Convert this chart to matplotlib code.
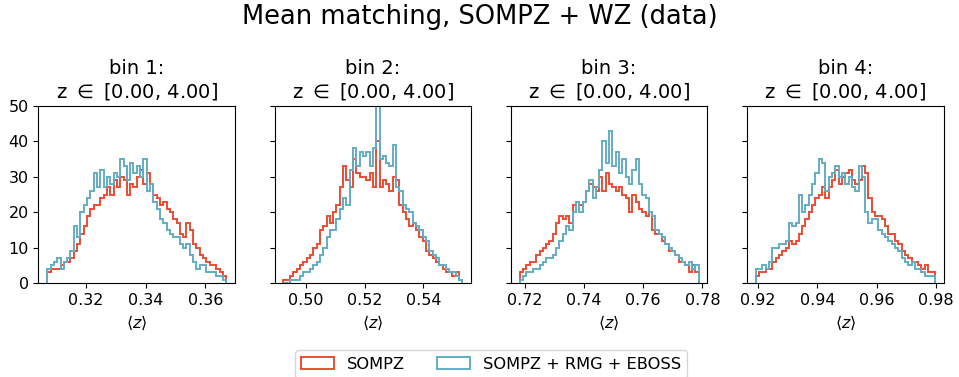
import matplotlib
matplotlib.use("Agg")
import matplotlib.pyplot as plt
import numpy as np

# bin edges per tomographic bin (lo, hi), same number of bins for every panel
ranges = [(0.307, 0.367), (0.4925, 0.5532), (0.7183, 0.7787), (0.9193, 0.9795)]
titles = ["bin 1:\nz $\\in$ [0.00, 4.00]", "bin 2:\nz $\\in$ [0.00, 4.00]",
          "bin 3:\nz $\\in$ [0.00, 4.00]", "bin 4:\nz $\\in$ [0.00, 4.00]"]
xticks = [[0.32, 0.34, 0.36], [0.50, 0.52, 0.54],
          [0.72, 0.74, 0.76, 0.78], [0.92, 0.94, 0.96, 0.98]]

# SOMPZ
sompz_1 = [3, 4, 4, 4, 5, 6, 6, 7, 9, 11, 14, 16, 19, 21, 22, 22, 24, 25, 27, 25, 29, 27, 30, 29, 25, 28, 27,
           30, 32, 28, 31, 28, 25, 24, 22, 23, 21, 20, 18, 17, 14, 13, 17, 15, 11, 10, 8, 7, 6, 5, 5, 4, 3, 2]
sompz_2 = [1, 1, 2, 3, 4, 5, 6, 7, 8, 10, 11, 15, 16, 19, 17, 20, 22, 27, 33, 29, 27, 35, 31, 30, 30, 29, 31,
           27, 40, 27, 29, 28, 26, 30, 29, 22, 20, 18, 16, 17, 15, 13, 12, 9, 8, 7, 6, 5, 4, 3, 3, 2, 3, 1]
sompz_3 = [3, 4, 5, 6, 6, 8, 9, 10, 11, 12, 14, 17, 19, 18, 19, 17, 22, 23, 22, 23, 26, 28, 27, 26, 30, 26, 31,
           28, 27, 26, 27, 25, 24, 20, 25, 23, 21, 20, 19, 20, 15, 14, 14, 12, 11, 9, 9, 8, 6, 6, 5, 3, 5, 3]
sompz_4 = [2, 3, 3, 4, 4, 6, 7, 8, 9, 10, 12, 11, 12, 14, 16, 18, 20, 22, 24, 25, 27, 24, 27, 29, 32, 28, 30,
           31, 32, 29, 28, 29, 33, 31, 24, 20, 19, 19, 18, 16, 14, 14, 12, 11, 9, 8, 7, 6, 6, 5, 4, 5, 3, 3]

# SOMPZ + RMG + EBOSS
rmg_1 = [4, 5, 6, 7, 4, 6, 7, 9, 16, 13, 20, 22, 24, 26, 31, 27, 32, 27, 30, 28, 31, 30, 35, 33, 29, 34, 31,
         33, 30, 35, 26, 28, 23, 21, 18, 17, 15, 14, 13, 13, 11, 10, 11, 8, 6, 4, 5, 5, 3, 3, 3, 2, 2, 1]
rmg_2 = [0, 0, 1, 1, 1, 2, 3, 3, 4, 5, 6, 8, 10, 13, 15, 15, 18, 21, 24, 22, 32, 38, 33, 37, 36, 37, 33,
         38, 50, 35, 36, 34, 33, 39, 27, 26, 22, 21, 20, 17, 16, 15, 13, 12, 9, 8, 7, 5, 5, 4, 3, 3, 2, 1]
rmg_3 = [1, 2, 3, 3, 4, 4, 5, 6, 7, 7, 8, 10, 12, 14, 16, 15, 20, 23, 20, 23, 26, 29, 24, 27, 32, 40, 34,
         43, 33, 37, 31, 35, 30, 28, 32, 35, 28, 25, 24, 20, 19, 15, 14, 13, 11, 10, 9, 8, 7, 6, 5, 6, 4, 5]
rmg_4 = [4, 4, 5, 4, 6, 10, 10, 11, 11, 12, 17, 16, 17, 25, 20, 22, 25, 28, 31, 35, 34, 26, 30, 31, 33, 30, 31,
         28, 30, 27, 26, 33, 30, 20, 17, 18, 18, 15, 14, 13, 12, 11, 10, 9, 7, 6, 5, 6, 4, 4, 3, 2, 2, 2]

sompz = [sompz_1, sompz_2, sompz_3, sompz_4]
rmg = [rmg_1, rmg_2, rmg_3, rmg_4]

red = "#ee4b32"
blue = "#62adc3"

fig, axes = plt.subplots(1, 4, figsize=(9.59, 3.77), dpi=100, sharey=True)
fig.subplots_adjust(left=0.04, right=0.984, top=0.719, bottom=0.249, wspace=0.2)

for k, ax in enumerate(axes):
    lo, hi = ranges[k]
    edges = np.linspace(lo, hi, len(sompz[k]) + 1)
    centres = 0.5 * (edges[1:] + edges[:-1])
    ax.hist(centres, bins=edges, weights=sompz[k], histtype="step", color=red, lw=1.4, label="SOMPZ")
    ax.hist(centres, bins=edges, weights=rmg[k], histtype="step", color=blue, lw=1.4,
            label="SOMPZ + RMG + EBOSS")
    ax.set_title(titles[k], fontsize=14)
    ax.set_xticks(xticks[k])
    ax.set_xlabel(r"$\langle z \rangle$", fontsize=11.5)
    ax.tick_params(labelsize=11.5)

axes[0].set_ylim(0, 50)
axes[0].set_yticks([0, 10, 20, 30, 40, 50])

handles, labels = axes[0].get_legend_handles_labels()
fig.legend(handles, labels, loc="lower center", ncol=2, bbox_to_anchor=(0.512, -0.025),
           fontsize=11.7)
fig.suptitle("Mean matching, SOMPZ + WZ (data)", fontsize=18.5, y=0.99)

fig.savefig("out.png", dpi=100)
